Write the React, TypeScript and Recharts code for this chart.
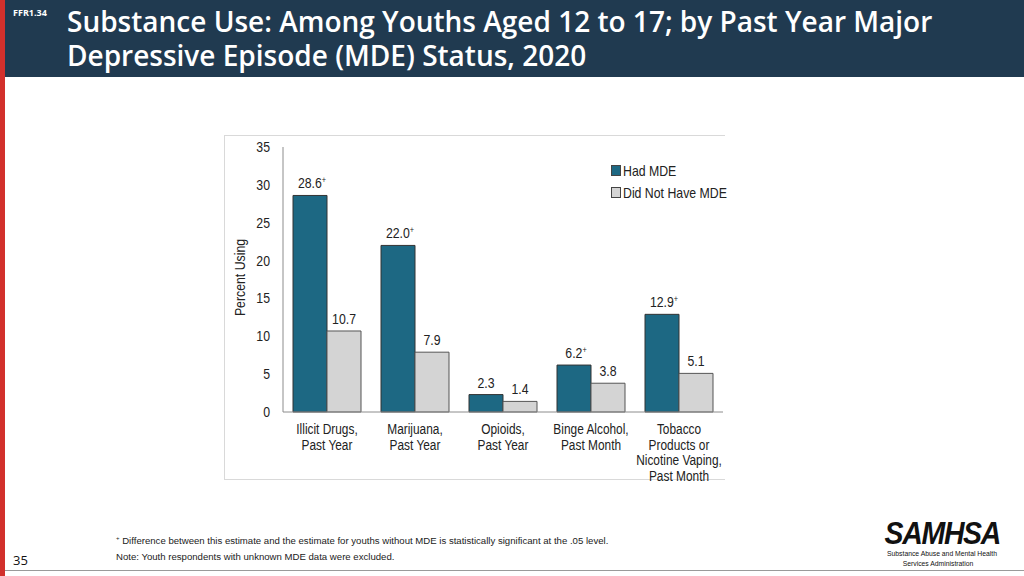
import React from "react"
import { BarChart, Bar, XAxis, YAxis, LabelList } from "recharts"

const categories = [
  ["Illicit Drugs,", "Past Year"],
  ["Marijuana,", "Past Year"],
  ["Opioids,", "Past Year"],
  ["Binge Alcohol,", "Past Month"],
  ["Tobacco", "Products or", "Nicotine Vaping,", "Past Month"],
]
const hadMDE = [28.6, 22.0, 2.3, 6.2, 12.9]
const noMDE = [10.7, 7.9, 1.4, 3.8, 5.1]
const hadSignificant = [true, true, false, true, true]
const yTicks = [0, 5, 10, 15, 20, 25, 30, 35]

const data = categories.map((lines, i) => ({
  name: lines.join(" "),
  lines,
  had: hadMDE[i],
  not: noMDE[i],
  sig: hadSignificant[i],
}))

// no Arial Narrow here, so squeeze Liberation Sans horizontally
const SANS = "'Liberation Sans', Arial, sans-serif"
const SQ = 0.82
const TEAL = "#1d6883"
const GREY = "#d4d4d4"

const Narrow = ({ x, y, anchor = "middle", size = 14.5, children }: any) => (
  <g transform={`translate(${x},${y}) scale(${SQ},1)`}>
    <text x={0} y={0} textAnchor={anchor} fontFamily={SANS} fontSize={size} fill="#222">
      {children}
    </text>
  </g>
)

const CategoryTick = (props: any) => {
  const { x, y, payload } = props
  const lines: string[] = data[payload.index]?.lines ?? [payload.value]
  return (
    <g>
      {lines.map((l, i) => (
        <Narrow key={i} x={x} y={y + 20 + i * 15.5} size={14.5}>
          {l}
        </Narrow>
      ))}
    </g>
  )
}

const ValueTick = (props: any) => {
  const { x, y, payload } = props
  return (
    <Narrow x={x} y={y + 5} anchor="end" size={15}>
      {payload.value}
    </Narrow>
  )
}

const makeValueLabel = (series: "had" | "not") => (props: any) => {
  const { x, y, width, value, index } = props
  const sig = series === "had" && data[index].sig
  return (
    <Narrow x={x + width / 2 + (sig ? 2 : 0)} y={y - 7} size={15}>
      {Number(value).toFixed(1)}
      {sig && (
        <tspan fontSize={9} dy={-5}>
          +
        </tspan>
      )}
    </Narrow>
  )
}

export default function App() {
  return (
    <div
      style={{
        position: "fixed",
        left: 0,
        top: 0,
        width: 1024,
        height: 576,
        background: "#fff",
        overflow: "hidden",
        fontFamily: "'Open Sans', sans-serif",
      }}
    >
      {/* header */}
      <div style={{ position: "absolute", left: 0, top: 0, width: 1024, height: 77, background: "#203a50" }} />
      <div style={{ position: "absolute", left: 0, top: 0, width: 5, height: 576, background: "#d2302c" }} />
      <div
        style={{
          position: "absolute",
          left: 13,
          top: 6,
          color: "#fff",
          fontSize: 9,
          fontWeight: 700,
        }}
      >
        FFR1.34
      </div>
      <div
        style={{
          position: "absolute",
          left: 67,
          top: 4,
          color: "#fff",
          fontSize: 28,
          fontWeight: 600,
          lineHeight: "34px",
          whiteSpace: "nowrap",
        }}
      >
        <div>Substance Use: Among Youths Aged 12 to 17; by Past Year Major</div>
        <div>Depressive Episode (MDE) Status, 2020</div>
      </div>

      {/* chart frame */}
      <div
        style={{
          position: "absolute",
          left: 224,
          top: 135,
          width: 500,
          height: 343,
          borderTop: "1px solid #d9d9d9",
          borderLeft: "1px solid #d9d9d9",
          borderBottom: "1px solid #d9d9d9",
        }}
      />
      <div style={{ position: "absolute", left: 224, top: 134 }}>
        <BarChart
          width={500}
          height={362}
          data={data}
          margin={{ top: 13, right: 1, left: 0, bottom: 18 }}
          barCategoryGap={10}
          barGap={0}
        >
          <XAxis
            dataKey="name"
            height={66}
            tick={<CategoryTick />}
            tickLine={false}
            axisLine={{ stroke: "#8c8c8c" }}
            interval={0}
            tickSize={0}
          />
          <YAxis
            width={59}
            domain={[0, 35]}
            ticks={yTicks}
            tickLine={false}
            tickSize={0}
            axisLine={{ stroke: "#8c8c8c" }}
            tick={<ValueTick />}
            tickMargin={13}
            label={{
              content: (p: any) => (
                <g transform={`translate(16, ${p.viewBox.y + p.viewBox.height / 2 - 2}) rotate(-90) scale(${SQ},1)`}>
                  <text x={0} y={5} textAnchor="middle" fontFamily={SANS} fontSize={15} fill="#222">
                    Percent Using
                  </text>
                </g>
              ),
            }}
          />
          <Bar dataKey="had" name="Had MDE" fill={TEAL} stroke="#333" strokeWidth={1} isAnimationActive={false}>
            <LabelList dataKey="had" content={makeValueLabel("had")} />
          </Bar>
          <Bar dataKey="not" name="Did Not Have MDE" fill={GREY} stroke="#555" strokeWidth={1} isAnimationActive={false}>
            <LabelList dataKey="not" content={makeValueLabel("not")} />
          </Bar>
        </BarChart>
      </div>

      {/* legend */}
      <div style={{ position: "absolute", left: 611, top: 159, fontFamily: SANS, fontSize: 15, color: "#222" }}>
        {[
          { label: "Had MDE", color: TEAL },
          { label: "Did Not Have MDE", color: GREY },
        ].map((it) => (
          <div key={it.label} style={{ display: "flex", alignItems: "center", height: 22 }}>
            <span
              style={{
                width: 8,
                height: 9,
                background: it.color,
                border: "1px solid #444",
                marginRight: 2,
                display: "inline-block",
              }}
            />
            <span style={{ display: "inline-block", transform: `scaleX(${SQ})`, transformOrigin: "left center", whiteSpace: "nowrap" }}>
              {it.label}
            </span>
          </div>
        ))}
      </div>

      {/* footer */}
      <div
        style={{
          position: "absolute",
          left: 116,
          top: 530,
          fontFamily: SANS,
          fontSize: 9.6,
          lineHeight: "16px",
          color: "#222",
        }}
      >
        <div>
          <sup style={{ fontSize: 6 }}>+</sup> Difference between this estimate and the estimate for youths without MDE is statistically significant at the .05 level.
        </div>
        <div>Note: Youth respondents with unknown MDE data were excluded.</div>
      </div>
      <div style={{ position: "absolute", left: 13, top: 551, fontSize: 13, color: "#111" }}>35</div>
      <div style={{ position: "absolute", left: 5, top: 570, width: 1019, height: 1, background: "#9a9a9a" }} />
      <div style={{ position: "absolute", left: 878, top: 517, width: 120, textAlign: "center", color: "#111" }}>
        <div
          style={{
            fontFamily: SANS,
            fontWeight: 900,
            fontStyle: "italic",
            fontSize: 32,
            lineHeight: "32px",
            letterSpacing: -1.5,
            transform: "scaleX(0.89)",
            whiteSpace: "nowrap",
          }}
        >
          SAMHSA
        </div>
        <div
          style={{
            fontFamily: SANS,
            fontSize: 8,
            lineHeight: "10px",
            transform: "scaleX(0.85)",
            whiteSpace: "nowrap",
          }}
        >
          Substance Abuse and Mental Health
          <br />
          Services Administration
        </div>
      </div>
    </div>
  )
}
